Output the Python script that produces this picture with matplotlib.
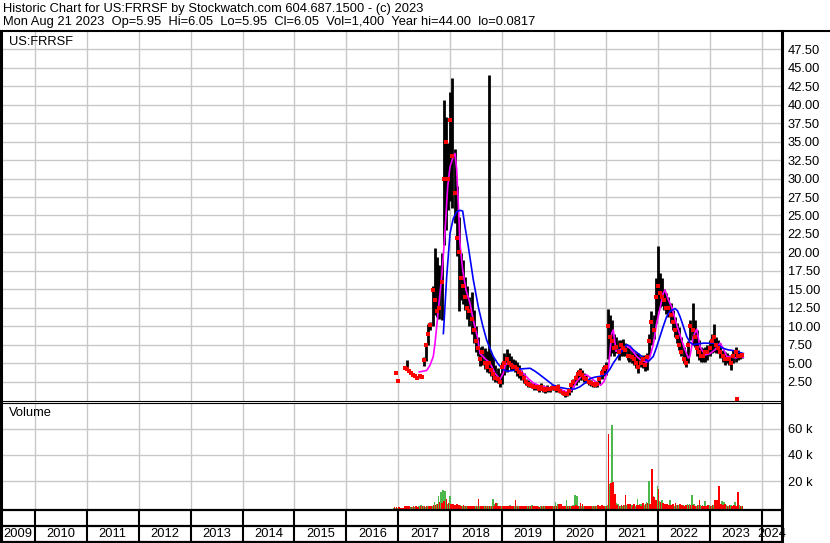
import numpy as np
import pandas as pd
import matplotlib
matplotlib.use("Agg")
import matplotlib.pyplot as plt
from matplotlib.lines import Line2D

plt.rcParams['font.family'] = ['Liberation Sans', 'DejaVu Sans']

# ---------------- data ----------------
title_line1 = "Historic Chart for US:FRRSF by Stockwatch.com 604.687.1500 - (c) 2023"
title_line2 = "Mon Aug 21 2023  Op=5.95  Hi=6.05  Lo=5.95  Cl=6.05  Vol=1,400  Year hi=44.00  lo=0.0817"
symbol = "US:FRRSF"

bar_start = "2016-12-01"   # half-monthly buckets
nan = np.nan
high = [nan, 3.6, 2.6, nan, nan, 4.6, 5.4, 4.0, 3.7, 3.5,
        3.4, 3.3, 3.4, 3.3, 5.8, 7.6, 10.3, 10.5, 15.5, 20.6,
        19.4, 18.3, 19.9, 40.6, 38.4, 34.8, 41.8, 43.6, 34.0, 29.0,
        24.8, 19.9, 19.0, 16.7, 15.4, 14.0, 14.6, 12.2, 10.0, 8.6,
        7.2, 7.3, 7.0, 6.7, 44.0, 6.3, 5.8, 4.8, 4.3, 3.6,
        5.2, 6.4, 6.9, 6.3, 6.0, 5.5, 5.4, 5.2, 4.7, 4.1,
        3.6, 2.9, 2.7, 2.5, 2.3, 2.3, 2.0, 2.0, 2.3, 2.0,
        1.8, 2.0, 1.8, 2.0, 2.0, 1.8, 2.1, 1.6, 1.4, 1.1,
        1.2, 1.6, 2.3, 2.9, 3.4, 4.1, 4.3, 4.1, 3.6, 3.4,
        2.9, 2.7, 2.5, 2.3, 2.6, 3.2, 4.2, 4.7, 5.2, 12.3,
        11.5, 10.8, 9.0, 8.6, 8.1, 8.1, 8.3, 7.7, 7.2, 7.0,
        6.8, 6.5, 6.3, 6.3, 5.9, 6.1, 5.9, 6.3, 9.0, 12.0,
        11.5, 16.5, 20.9, 17.2, 16.5, 15.0, 14.5, 14.0, 13.1, 12.2,
        11.3, 10.4, 9.9, 8.6, 7.2, 6.3, 8.0, 10.8, 13.1, 10.8,
        9.5, 8.1, 7.2, 7.0, 7.2, 7.5, 8.1, 9.0, 10.3, 8.6,
        8.1, 7.7, 6.8, 6.5, 6.3, 6.1, 5.9, 6.8, 7.2, 6.8,
        6.5, 6.3]
low = [nan, 3.6, 2.6, nan, nan, 4.3, 4.1, 3.8, 3.5, 3.3,
       3.1, 2.9, 3.0, 3.0, 4.6, 5.3, 7.5, 9.5, 10.0, 11.5,
       11.2, 11.0, 10.8, 21.0, 23.0, 25.7, 27.0, 26.0, 24.0, 19.5,
       12.0, 13.5, 13.0, 12.2, 11.0, 10.0, 9.0, 7.7, 6.5, 5.9,
       4.6, 4.7, 4.2, 3.8, 3.6, 3.3, 2.7, 2.4, 2.3, 1.8,
       2.2, 3.4, 3.8, 4.5, 4.0, 4.0, 3.8, 3.2, 3.0, 2.7,
       2.3, 2.0, 1.8, 1.7, 1.6, 1.4, 1.4, 1.1, 1.4, 1.1,
       1.0, 1.1, 1.1, 1.4, 1.3, 1.1, 1.3, 0.9, 0.7, 0.45,
       0.5, 0.7, 1.1, 1.8, 2.0, 2.5, 2.7, 2.7, 2.5, 2.3,
       2.0, 1.9, 1.7, 1.7, 1.8, 2.2, 2.8, 3.2, 3.4, 5.5,
       6.0, 6.4, 5.9, 6.3, 5.4, 5.9, 5.9, 6.0, 5.4, 5.2,
       5.0, 4.7, 4.3, 3.6, 4.5, 4.3, 3.9, 4.1, 6.0, 7.5,
       8.2, 10.4, 12.0, 12.6, 12.8, 12.2, 11.7, 11.3, 10.4, 9.5,
       8.6, 7.7, 6.8, 5.9, 5.0, 4.5, 5.0, 8.1, 7.5, 7.2,
       6.0, 5.4, 5.2, 5.2, 5.2, 5.4, 5.9, 6.3, 6.5, 6.3,
       6.3, 5.7, 5.2, 4.7, 5.0, 4.7, 4.1, 5.0, 5.2, 5.4,
       5.5, 5.7]
close = [nan, 3.6, 2.6, nan, nan, 4.4, 4.2, 3.9, 3.6, 3.4,
         3.2, 3.0, 3.2, 3.1, 5.4, 7.5, 9.0, 10.2, 14.9, 13.5,
         12.0, 12.5, 16.0, 30.0, 35.0, 30.0, 38.0, 33.0, 28.0, 22.0,
         20.0, 16.5, 15.5, 14.0, 12.5, 12.0, 11.0, 9.5, 8.0, 7.0,
         5.5, 6.5, 5.0, 4.5, 5.0, 4.0, 3.5, 3.0, 2.8, 2.5,
         4.5, 5.0, 5.5, 5.0, 4.8, 4.5, 4.5, 4.2, 3.8, 3.5,
         3.0, 2.5, 2.2, 2.0, 1.9, 1.8, 1.7, 1.5, 1.8, 1.5,
         1.4, 1.5, 1.5, 1.6, 1.6, 1.5, 1.7, 1.2, 1.0, 0.8,
         0.8, 1.2, 2.0, 2.5, 3.0, 3.5, 3.8, 3.4, 3.0, 2.8,
         2.5, 2.3, 2.1, 2.0, 2.2, 2.8, 3.6, 4.2, 4.5, 10.0,
         8.5, 8.0, 7.0, 7.2, 6.5, 7.5, 7.0, 6.8, 6.0, 6.0,
         5.8, 5.5, 5.0, 4.5, 5.0, 5.5, 4.8, 5.8, 8.0, 10.5,
         9.5, 14.0, 15.5, 14.5, 14.0, 13.5, 12.5, 12.5, 11.5, 10.5,
         9.5, 8.5, 7.5, 6.5, 5.5, 5.0, 7.5, 10.0, 9.5, 8.5,
         7.0, 6.5, 6.0, 6.0, 6.5, 6.5, 7.0, 8.0, 8.5, 7.5,
         7.0, 6.5, 6.0, 5.5, 5.5, 5.5, 5.0, 6.0, 6.5, 6.0,
         6.0, 6.05]
vol_up = [0, 0, 0, 0, 0, 0, 0.3, 0, 0.5, 0.4,
          0.6, 0.5, 1.0, 2.0, 0.8, 0.6, 0.8, 1.0, 1.5, 4.0,
          3.0, 8.5, 12.0, 13.0, 12.5, 2.5, 8.5, 2.0, 1.5, 1.3,
          1.0, 2.0, 1.5, 1.2, 1.0, 1.5, 1.2, 1.0, 1.3, 1.0,
          1.5, 1.2, 1.0, 1.4, 1.2, 1.0, 6.5, 2.5, 3.6, 1.5,
          1.2, 1.0, 1.5, 1.3, 2.0, 1.0, 1.2, 1.0, 0.8, 1.0,
          0.7, 1.3, 0.8, 1.0, 1.8, 1.0, 0.8, 1.0, 0.9, 1.2,
          0.8, 1.0, 1.5, 1.2, 1.5, 4.0, 3.0, 2.0, 1.5, 1.2,
          5.5, 1.5, 1.0, 2.0, 9.2, 8.5, 1.3, 1.2, 1.0, 1.2,
          0.8, 1.0, 1.2, 0.8, 1.0, 1.2, 1.0, 1.5, 1.0, 2.0,
          18.0, 62.5, 2.5, 3.5, 3.0, 1.5, 1.3, 2.0, 2.0, 1.5,
          1.8, 2.0, 1.5, 6.2, 2.5, 3.0, 2.0, 4.5, 20.5, 3.0,
          8.5, 2.5, 16.0, 5.0, 6.0, 2.0, 2.5, 1.5, 5.5, 2.0,
          1.5, 2.0, 1.8, 1.5, 2.2, 1.5, 2.5, 3.0, 9.4, 2.5,
          1.5, 1.8, 2.0, 2.0, 5.0, 1.5, 1.8, 1.5, 2.0, 2.0,
          1.5, 1.5, 5.0, 4.0, 2.0, 1.5, 2.0, 1.5, 4.0, 1.5,
          2.0, 1.0]
vol_down = [0.5, 0.6, 0.4, 0, 0, 1.0, 1.2, 0.8, 0.7, 0.8,
            0.9, 0.6, 0.8, 1.0, 0.8, 1.0, 1.5, 1.3, 2.0, 2.0,
            2.5, 4.5, 3.5, 5.3, 6.5, 3.5, 2.5, 2.5, 2.0, 2.8,
            2.2, 1.5, 1.8, 1.5, 1.2, 1.3, 1.5, 1.2, 1.2, 6.5,
            1.2, 1.5, 1.3, 1.0, 1.5, 1.2, 1.3, 3.5, 1.2, 1.0,
            1.4, 1.2, 1.0, 1.2, 1.0, 1.5, 6.0, 1.2, 1.0, 1.2,
            1.0, 0.8, 1.0, 1.0, 0.8, 0.8, 1.0, 0.7, 1.1, 0.8,
            1.0, 1.2, 1.0, 1.2, 1.5, 1.5, 2.5, 3.0, 1.2, 1.5,
            1.0, 1.0, 1.2, 1.5, 2.0, 1.5, 3.2, 2.5, 1.2, 1.3,
            1.2, 1.5, 1.0, 1.5, 2.2, 1.0, 1.8, 1.0, 1.5, 56.0,
            19.0, 19.5, 10.0, 1.8, 1.5, 2.0, 2.0, 9.5, 2.5, 3.0,
            1.5, 2.5, 1.8, 2.0, 1.5, 3.5, 3.0, 3.5, 2.5, 29.0,
            8.0, 5.5, 14.0, 4.5, 3.5, 2.5, 3.0, 2.0, 2.0, 2.5,
            3.5, 2.0, 2.5, 1.8, 1.5, 2.0, 1.8, 2.0, 1.8, 1.5,
            2.0, 5.5, 1.5, 1.5, 1.5, 2.0, 1.5, 2.0, 6.0, 5.5,
            16.5, 3.0, 2.0, 2.5, 1.5, 1.8, 1.5, 2.0, 1.5, 11.5,
            1.0, 1.4]

ma_short_t = [2017.404, 2017.547, 2017.610, 2017.674, 2017.707, 2017.739, 2017.770, 2017.836,
              2017.880, 2017.913, 2017.951, 2017.996, 2018.059, 2018.092, 2018.125, 2018.155,
              2018.188, 2018.240, 2018.304, 2018.380, 2018.458, 2018.521, 2018.573, 2018.670,
              2018.766, 2018.862, 2018.958, 2019.022, 2019.055, 2019.118, 2019.215, 2019.311,
              2019.407, 2019.503, 2019.600, 2019.729, 2019.858, 2019.985, 2020.114, 2020.243,
              2020.339, 2020.435, 2020.532, 2020.628, 2020.724, 2020.821, 2020.898, 2020.961,
              2021.044, 2021.109, 2021.140, 2021.192, 2021.269, 2021.398, 2021.462, 2021.525,
              2021.591, 2021.654, 2021.718, 2021.783, 2021.847, 2021.910, 2021.976, 2022.039,
              2022.103, 2022.136, 2022.199, 2022.265, 2022.328, 2022.392, 2022.457, 2022.521,
              2022.584, 2022.617, 2022.681, 2022.746, 2022.810, 2022.906, 2023.003, 2023.099,
              2023.195, 2023.258, 2023.324, 2023.420, 2023.517, 2023.580, 2023.644]
ma_short_v = [3.8, 4.0, 4.7, 5.9, 7.7, 9.9, 12.2, 16.7,
              20.8, 24.4, 28.9, 31.6, 33.0, 33.4, 31.2, 26.7,
              21.2, 17.6, 14.9, 13.1, 10.4, 8.6, 6.3, 5.6,
              5.0, 3.6, 2.8, 3.6, 4.7, 5.1, 4.7, 4.3,
              3.6, 2.9, 2.3, 1.9, 1.7, 1.6, 1.45, 1.1,
              1.35, 2.5, 3.25, 3.4, 2.9, 2.35, 2.0, 2.5,
              4.1, 9.0, 9.5, 6.6, 6.8, 7.4, 7.0, 6.5,
              5.9, 5.5, 5.3, 5.1, 5.9, 7.5, 10.4, 12.4,
              14.5, 14.9, 13.6, 12.6, 11.0, 9.5, 8.1, 6.8,
              5.7, 5.9, 8.6, 9.6, 7.2, 6.1, 6.3, 6.8,
              7.7, 7.0, 5.9, 5.8, 5.7, 6.1, 5.8]

ma_long_t = [2017.868, 2017.932, 2017.996, 2018.059, 2018.125, 2018.188, 2018.240, 2018.284,
             2018.348, 2018.444, 2018.541, 2018.621, 2018.702, 2018.829, 2018.920, 2019.022,
             2019.112, 2019.215, 2019.344, 2019.537, 2019.633, 2019.729, 2019.858, 2019.985,
             2020.114, 2020.306, 2020.403, 2020.499, 2020.595, 2020.691, 2020.788, 2020.884,
             2021.013, 2021.077, 2021.140, 2021.269, 2021.398, 2021.462, 2021.525, 2021.654,
             2021.814, 2021.910, 2021.976, 2022.039, 2022.103, 2022.168, 2022.231, 2022.328,
             2022.376, 2022.425, 2022.488, 2022.554, 2022.617, 2022.681, 2022.771, 2022.873,
             2022.964, 2023.066, 2023.156, 2023.258, 2023.348, 2023.450, 2023.541, 2023.644]
ma_long_v = [9.0, 16.7, 22.6, 24.6, 25.5, 25.7, 25.6, 23.5,
             20.8, 16.3, 12.6, 10.2, 8.1, 5.9, 4.9, 4.1,
             3.9, 4.0, 4.2, 4.3, 3.9, 3.4, 2.7, 2.0,
             1.7, 1.45, 1.5, 1.8, 2.3, 2.9, 3.1, 3.2,
             3.6, 4.2, 5.0, 6.3, 7.5, 7.3, 6.8, 6.1,
             5.2, 5.9, 7.2, 8.6, 10.0, 11.3, 12.0, 12.4,
             12.1, 11.3, 10.0, 8.6, 7.8, 7.5, 7.6, 7.7,
             7.7, 7.7, 7.4, 7.0, 6.8, 6.7, 6.5, 6.3]

outlier_t = [2023.522]
outlier_v = [0.0817]

price_ticks = [2.5, 5, 7.5, 10, 12.5, 15, 17.5, 20, 22.5, 25, 27.5, 30,
               32.5, 35, 37.5, 40, 42.5, 45, 47.5]
vol_ticks = [20, 40, 60]
years = list(range(2009, 2025))

# ---------------- layout ----------------
W, H = 830, 543
fig = plt.figure(figsize=(W / 100, H / 100), dpi=100)
fig.patch.set_facecolor('white')

def rect(l, t, r, b):
    return [l / W, 1 - b / H, (r - l) / W, (b - t) / H]

XL = 1.0
XR = 782.0
xmin = 2017 + (XL - 398.3) / 51.93
xmax = 2017 + (XR - 398.3) / 51.93

def to_year(ts):
    ts = pd.DatetimeIndex(ts)
    days = np.where(ts.is_leap_year, 366.0, 365.0)
    return ts.year + (ts.dayofyear - 1) / days

dates = pd.date_range(bar_start, periods=len(high), freq='SMS')
t = np.asarray(to_year(dates), dtype=float)

GRID = '#c8c8c8'
FS = 9.3

# price panel
ax = fig.add_axes(rect(XL, 31, XR, 400.5))
ax.set_xlim(xmin, xmax)
ax.set_ylim(-0.07, 50.0)
ax.set_axisbelow(True)
ax.set_xticks(years[1:])
ax.set_yticks(price_ticks)
ax.set_yticklabels([f"{v:.2f}" for v in price_ticks])
ax.yaxis.tick_right()
ax.tick_params(axis='x', length=0, labelbottom=False)
ax.tick_params(axis='y', length=0, pad=4, labelsize=FS)
ax.grid(True, color=GRID, lw=1.0)
for s in ax.spines.values():
    s.set_visible(False)

hi = np.array(high, dtype=float)
lo = np.array(low, dtype=float)
cl = np.array(close, dtype=float)
ok = ~np.isnan(hi)
ax.vlines(t[ok], lo[ok], hi[ok], color='black', lw=2.0, zorder=3)
ax.plot(ma_short_t, ma_short_v, color='#ff00ff', lw=1.2, zorder=4)
ax.plot(ma_long_t, ma_long_v, color='#0000ff', lw=1.2, zorder=4)
ax.plot(t[ok], cl[ok], 's', color='red', ms=2.3, mew=0, zorder=5)
ax.plot(outlier_t, outlier_v, 's', color='red', ms=2.2, mew=0, zorder=5, clip_on=False)
ax.text(8 / (XR - XL), 1 - 11 / 369.5, symbol, transform=ax.transAxes,
        ha='left', va='center', fontsize=FS)

# volume panel
axv = fig.add_axes(rect(XL, 403, XR, 509.5))
axv.set_xlim(xmin, xmax)
axv.set_ylim(-1.5, 79.4)
axv.set_axisbelow(True)
axv.set_xticks(years[1:])
axv.set_yticks(vol_ticks)
axv.set_yticklabels([f"{v} k" for v in vol_ticks])
axv.yaxis.tick_right()
axv.tick_params(axis='x', length=0, labelbottom=False)
axv.tick_params(axis='y', length=0, pad=4, labelsize=FS)
axv.grid(True, color=GRID, lw=1.0)
for s in axv.spines.values():
    s.set_visible(False)
vu = np.array(vol_up, dtype=float)
vd = np.array(vol_down, dtype=float)
step = 1 / 24
bw = step * 0.75
axv.bar(t - step / 4, vu + 1.5, width=bw, bottom=-1.5, color='#4cb84c', lw=0, zorder=3)
axv.bar(t + step / 4, vd + 1.5, width=bw, bottom=-1.5, color='#ff0000', lw=0, zorder=3)
axv.text(8 / (XR - XL), 1 - 10 / 106.5, "Volume", transform=axv.transAxes,
         ha='left', va='center', fontsize=FS)

# year bands
for (tp, bt) in [(509.5, 526), (526, 541.5)]:
    b = fig.add_axes(rect(XL, tp, XR, bt))
    b.set_xlim(xmin, xmax)
    b.set_ylim(0, 1)
    b.set_axis_off()
    for y in years[1:]:
        b.axvline(y, color='black', lw=1.5)
    if tp == 526:
        for y in years:
            c = (max(y, xmin) + min(y + 1, xmax)) / 2
            b.text(c, 0.5, str(y), ha='center', va='center', fontsize=FS)

# frame lines
def hline(y, x0, x1, lw):
    fig.add_artist(Line2D([x0 / W, x1 / W], [1 - y / H, 1 - y / H], color='black', lw=lw,
                          transform=fig.transFigure))

def vline(x, y0, y1, lw):
    fig.add_artist(Line2D([x / W, x / W], [1 - y0 / H, 1 - y1 / H], color='black', lw=lw,
                          transform=fig.transFigure))

hline(31, 0, W, 1.5)
hline(400.5, 0, XR, 0.8)
hline(403, 0, XR, 0.8)
hline(509.5, 0, XR, 1.6)
hline(526, 0, XR, 1.6)
hline(541.5, 0, XR, 1.6)
vline(1, 31, H, 2.2)
vline(XR, 31, H, 2.2)

fig.text(3 / W, 1 - 9 / H, title_line1, ha='left', va='center', fontsize=FS)
fig.text(3 / W, 1 - 22 / H, title_line2, ha='left', va='center', fontsize=FS)

fig.savefig("out.png", dpi=100, facecolor='white')
